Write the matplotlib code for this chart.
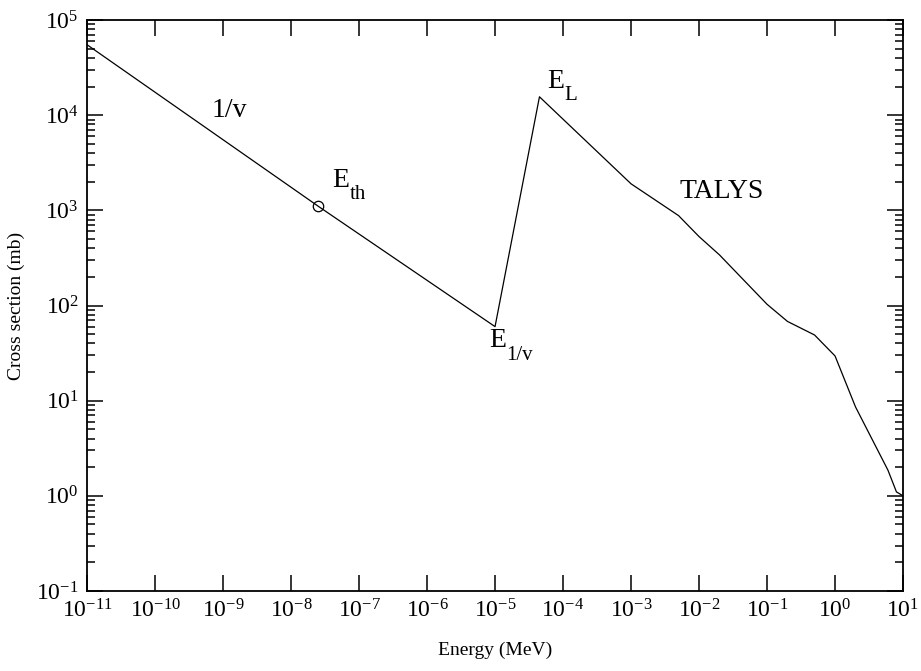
import numpy as np
import matplotlib
matplotlib.use("Agg")
import matplotlib.pyplot as plt
from matplotlib.ticker import LogLocator, NullLocator

plt.rcParams['font.family'] = ['Liberation Serif', 'DejaVu Serif']
plt.rcParams['mathtext.fontset'] = 'stix'

# 1/v branch and TALYS branch (energy in MeV, cross section in mb)
energy = [1e-11, 2.53e-8, 1e-5, 4.5e-5, 1e-3, 5e-3, 1e-2, 2e-2,
          0.1, 0.2, 0.5, 1.0, 2.0, 6.0, 8.0, 10.0]
xs = [5.5e4, 1.1e3, 60, 1.56e4, 1.9e3, 880, 530, 340,
      103, 68, 49, 29.5, 8.6, 1.86, 1.1, 1.0]

e_th = [2.53e-8]
xs_th = [1.1e3]

# text labels: (x, y, main text, subscript)
labels = [
    (6.9e-10, 9.5e3, "1/v", ""),
    (4.0e-8, 1.76e3, "E", "th"),
    (5.8e-5, 1.93e4, "E", "L"),
    (5.1e-3, 1.35e3, "TALYS", ""),
    (8.1e-6, 36.6, "E", "1/v"),
]

fig = plt.figure(figsize=(9.21, 6.71), dpi=100)
ax = fig.add_axes([0.0945, 0.1192, 0.8860, 0.8510])

ax.plot(energy, xs, color='black', lw=0.9)
ax.plot(e_th, xs_th, 'o', mfc='none', mec='black', ms=7.5, mew=0.9)

for x, y, s, sub in labels:
    ax.text(x, y, s, fontsize=20, ha='left', va='baseline')
    if sub:
        # grace-style subscript: larger and lower than mathtext
        ax.annotate(sub, (x, y), xytext=(12.5, -9), textcoords='offset points',
                    fontsize=15, ha='left', va='baseline')

ax.set_xscale('log')
ax.set_yscale('log')
ax.set_xlim(1e-11, 10)
ax.set_ylim(1e-1, 1e5)

ax.xaxis.set_major_locator(LogLocator(base=10, numticks=20))
ax.xaxis.set_minor_locator(NullLocator())
ax.yaxis.set_major_locator(LogLocator(base=10, numticks=20))
ax.yaxis.set_minor_locator(LogLocator(base=10, subs=np.arange(2, 10), numticks=20))

ax.tick_params(which='both', direction='in', top=True, right=True, width=1.1)
ax.tick_params(which='major', length=11.5, labelsize=17, pad=6)
ax.tick_params(which='minor', length=6)
for sp in ax.spines.values():
    sp.set_linewidth(1.3)

ax.set_xlabel("Energy (MeV)", fontsize=14, labelpad=14)
ax.set_ylabel("Cross section (mb)", fontsize=14, labelpad=8)

fig.savefig("out.png", dpi=100)
